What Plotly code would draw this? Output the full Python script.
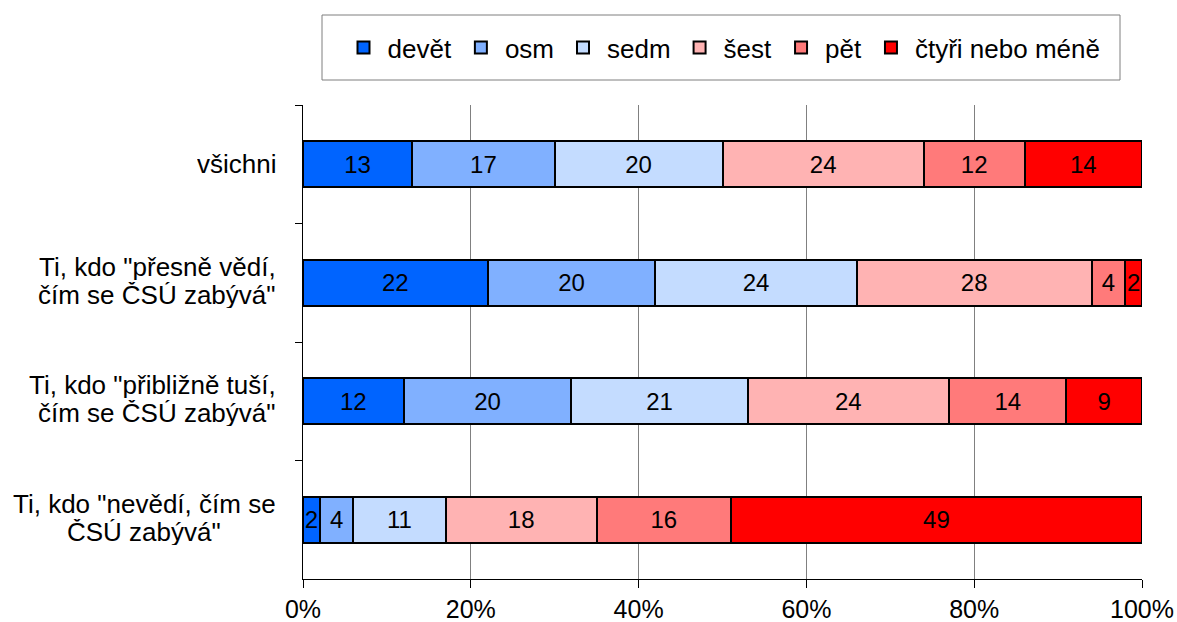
import plotly.graph_objects as go

categories = [
    'všichni',
    'Ti, kdo "přesně vědí,<br>čím se ČSÚ zabývá"',
    'Ti, kdo "přibližně tuší,<br>čím se ČSÚ zabývá"',
    'Ti, kdo "nevědí, čím se<br>ČSÚ zabývá"',
]
label_align = ['right', 'right', 'right', 'center']

series_names = ['devět', 'osm', 'sedm', 'šest', 'pět', 'čtyři nebo méně']
series_colors = ['#0064FF', '#80B0FF', '#C4DCFF', '#FFB3B3', '#FF7A7A', '#FF0000']

devet = [13, 22, 12, 2]
osm = [17, 20, 20, 4]
sedm = [20, 24, 21, 11]
sest = [24, 28, 24, 18]
pet = [12, 4, 14, 16]
ctyri = [14, 2, 9, 49]
series_values = [devet, osm, sedm, sest, pet, ctyri]

x_ticks = [0, 20, 40, 60, 80, 100]
x_tick_labels = ['0%', '20%', '40%', '60%', '80%', '100%']

FONT = 'Liberation Sans, Arial, sans-serif'
W, H = 1177, 622
ML, MR, MT, MB = 303, 35, 105, 43
PW = W - ML - MR
PH = H - MT - MB

fig = go.Figure()
for name, color, vals in zip(series_names, series_colors, series_values):
    fig.add_trace(go.Bar(
        y=categories, x=vals, name=name, orientation='h',
        marker=dict(color=color, line=dict(color='black', width=2)),
        text=[str(v) for v in vals], textposition='inside',
        insidetextanchor='middle', textangle=0,
        textfont=dict(family=FONT, size=24, color='black'),
        hoverinfo='x+name',
    ))

# category labels, one annotation per line (tight line spacing as in the original)
LINE_H = 28
for cat, al in zip(categories, label_align):
    lines = cat.split('<br>')
    n = len(lines)
    for i, ln in enumerate(lines):
        if al == 'center':
            xa, xs = 'center', -159
        else:
            xa, xs = 'right', -25
        fig.add_annotation(
            x=0, xref='paper', xanchor=xa, xshift=xs,
            y=cat, yref='y', yanchor='middle',
            yshift=((n - 1) / 2 - i) * LINE_H + (2 if n > 1 else 0),
            text=ln, showarrow=False, height=LINE_H - 2,
            font=dict(family=FONT, size=26, color='black'),
        )

# legend box
fig.add_shape(type='rect', xref='paper', yref='paper',
              x0=(322 - ML) / PW, x1=(1120 - ML) / PW,
              y0=1 + (MT - 80) / PH, y1=1 + (MT - 15) / PH,
              line=dict(color='#7f7f7f', width=1), fillcolor='white', layer='below')

fig.update_layout(
    width=W, height=H,
    margin=dict(l=ML, r=MR, t=MT, b=MB, autoexpand=False),
    barmode='stack', bargap=0.61,
    plot_bgcolor='white', paper_bgcolor='white',
    font=dict(family=FONT, size=25, color='black'),
    uniformtext=dict(minsize=24, mode='show'),
    showlegend=True,
    legend=dict(orientation='h', x=0.5, xanchor='center',
                yref='container', y=1 - 47.5 / H, yanchor='middle',
                font=dict(family=FONT, size=26, color='black'),
                bgcolor='rgba(0,0,0,0)', borderwidth=0,
                itemwidth=38, traceorder='normal'),
    xaxis=dict(range=[0, 100], tickvals=x_ticks, ticktext=x_tick_labels,
               showgrid=True, gridcolor='#808080', gridwidth=1,
               showline=True, linecolor='black', linewidth=1,
               ticks='outside', ticklen=8, tickcolor='black',
               tickfont=dict(family=FONT, size=25, color='black'),
               zeroline=False, fixedrange=True, automargin=False),
    yaxis=dict(autorange='reversed', showticklabels=False,
               tickson='boundaries', ticks='outside', ticklen=7, tickcolor='black',
               showgrid=False, showline=True, linecolor='black', linewidth=1,
               zeroline=False, fixedrange=True, automargin=False),
)

fig.write_html('out.html', config={'displayModeBar': False},
               post_script="document.body.style.margin='0';document.body.style.overflow='hidden';")
